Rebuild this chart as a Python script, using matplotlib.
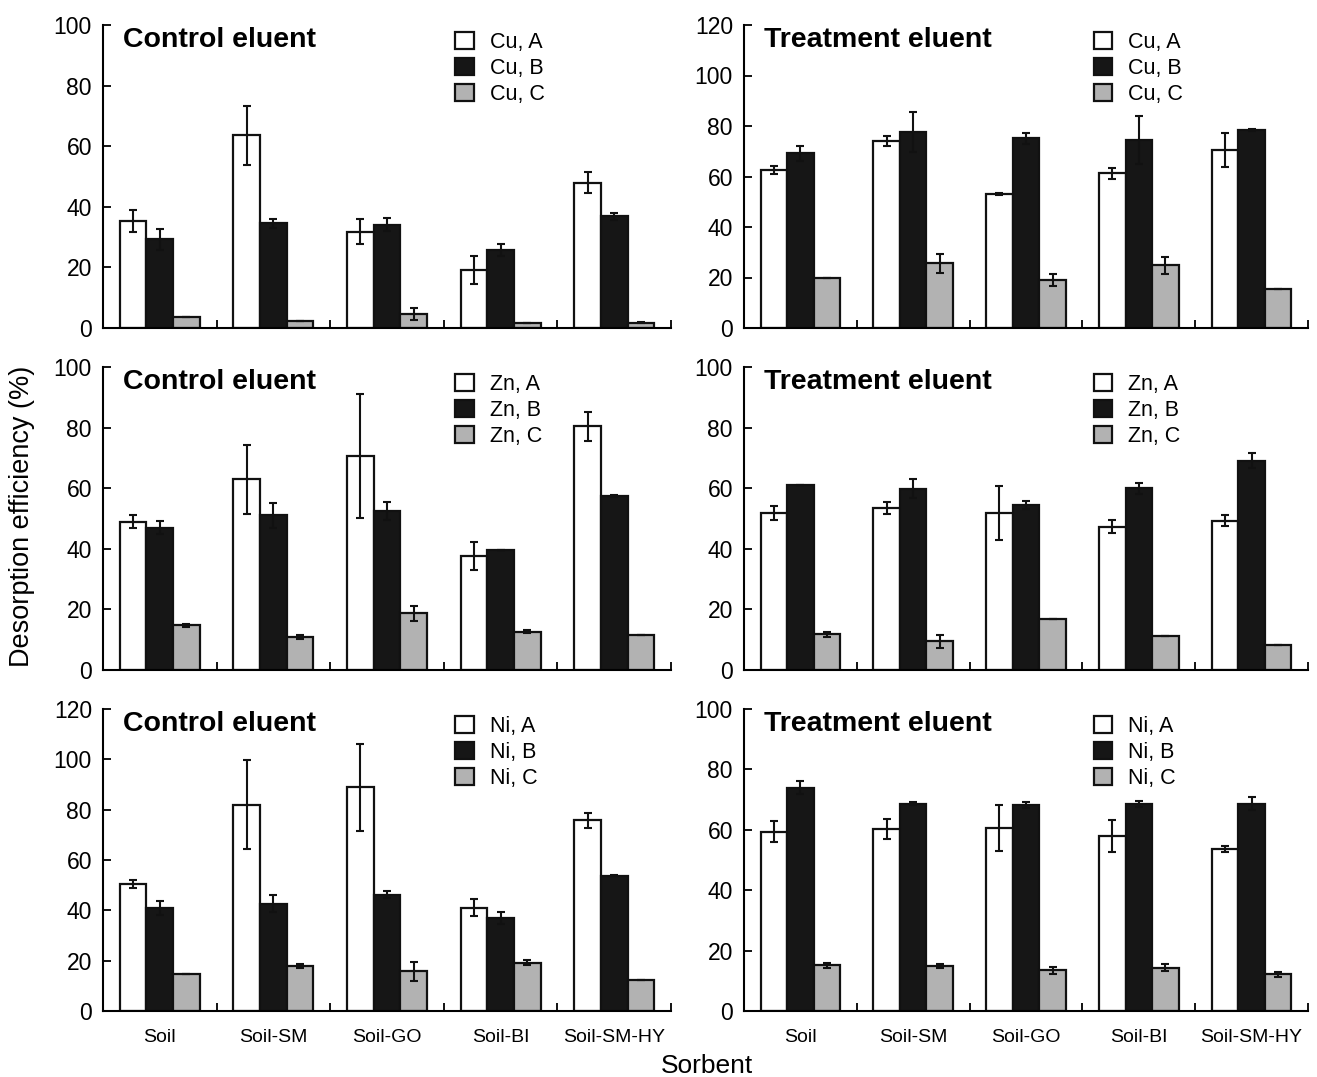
import numpy as np
import matplotlib
matplotlib.use('Agg')
import matplotlib.pyplot as plt
from matplotlib.patches import Patch
from matplotlib import font_manager

# font: narrow sans if available
names = set(f.name for f in font_manager.fontManager.ttflist)
if 'Liberation Sans Narrow' in names:
    plt.rcParams['font.family'] = ['Liberation Sans Narrow', 'DejaVu Sans']
else:
    plt.rcParams['font.family'] = ['Liberation Sans', 'DejaVu Sans']

sorbents = ['Soil', 'Soil-SM', 'Soil-GO', 'Soil-BI', 'Soil-SM-HY']

# Cu, control eluent
cu_ctrl_A = [35.4, 63.6, 31.8, 19.2, 48.0]
cu_ctrl_A_err = [3.6, 9.7, 4.2, 4.6, 3.5]
cu_ctrl_B = [29.3, 34.5, 34.1, 25.6, 36.8]
cu_ctrl_B_err = [3.5, 1.6, 2.2, 2.0, 1.3]
cu_ctrl_C = [3.5, 2.2, 4.5, 1.8, 1.8]
cu_ctrl_C_err = [0.0, 0.0, 2.0, 0.0, 0.3]

# Cu, treatment eluent
cu_trt_A = [62.6, 74.0, 53.1, 61.3, 70.6]
cu_trt_A_err = [1.7, 2.1, 0.3, 2.1, 6.7]
cu_trt_B = [69.2, 77.7, 75.2, 74.4, 78.5]
cu_trt_B_err = [3.0, 7.9, 2.2, 9.4, 0.5]
cu_trt_C = [20.0, 25.6, 19.1, 24.8, 15.3]
cu_trt_C_err = [0.0, 3.8, 2.4, 3.3, 0.0]

# Zn, control eluent
zn_ctrl_A = [49.0, 63.0, 70.7, 37.5, 80.4]
zn_ctrl_A_err = [2.1, 11.4, 20.4, 4.6, 4.7]
zn_ctrl_B = [47.0, 51.0, 52.6, 39.5, 57.5]
zn_ctrl_B_err = [2.1, 4.0, 3.0, 0.0, 0.3]
zn_ctrl_C = [14.7, 10.9, 18.7, 12.7, 11.5]
zn_ctrl_C_err = [0.5, 0.6, 2.4, 0.5, 0.0]

# Zn, treatment eluent
zn_trt_A = [51.8, 53.4, 51.8, 47.3, 49.3]
zn_trt_A_err = [2.3, 1.9, 9.0, 2.2, 1.8]
zn_trt_B = [61.2, 59.9, 54.5, 60.0, 69.1]
zn_trt_B_err = [0.0, 3.2, 1.2, 1.8, 2.4]
zn_trt_C = [11.8, 9.5, 16.8, 11.1, 8.2]
zn_trt_C_err = [0.9, 2.1, 0.0, 0.0, 0.0]

# Ni, control eluent
ni_ctrl_A = [50.4, 82.0, 88.9, 41.1, 75.7]
ni_ctrl_A_err = [1.7, 17.7, 17.3, 3.3, 3.0]
ni_ctrl_B = [40.9, 42.7, 46.2, 36.9, 53.7]
ni_ctrl_B_err = [2.8, 3.3, 1.4, 2.5, 0.2]
ni_ctrl_C = [14.8, 17.9, 15.7, 19.1, 12.4]
ni_ctrl_C_err = [0.0, 0.9, 3.8, 1.0, 0.0]

# Ni, treatment eluent
ni_trt_A = [59.4, 60.2, 60.6, 58.0, 53.7]
ni_trt_A_err = [3.4, 3.4, 7.5, 5.4, 1.1]
ni_trt_B = [74.0, 68.7, 68.2, 68.6, 68.7]
ni_trt_B_err = [2.2, 0.5, 0.9, 0.9, 2.3]
ni_trt_C = [15.1, 14.9, 13.5, 14.3, 12.1]
ni_trt_C_err = [0.9, 0.8, 1.2, 1.2, 0.9]

panels = [
    ('Cu', 'Control eluent', cu_ctrl_A, cu_ctrl_A_err, cu_ctrl_B, cu_ctrl_B_err, cu_ctrl_C, cu_ctrl_C_err, 100),
    ('Cu', 'Treatment eluent', cu_trt_A, cu_trt_A_err, cu_trt_B, cu_trt_B_err, cu_trt_C, cu_trt_C_err, 120),
    ('Zn', 'Control eluent', zn_ctrl_A, zn_ctrl_A_err, zn_ctrl_B, zn_ctrl_B_err, zn_ctrl_C, zn_ctrl_C_err, 100),
    ('Zn', 'Treatment eluent', zn_trt_A, zn_trt_A_err, zn_trt_B, zn_trt_B_err, zn_trt_C, zn_trt_C_err, 100),
    ('Ni', 'Control eluent', ni_ctrl_A, ni_ctrl_A_err, ni_ctrl_B, ni_ctrl_B_err, ni_ctrl_C, ni_ctrl_C_err, 120),
    ('Ni', 'Treatment eluent', ni_trt_A, ni_trt_A_err, ni_trt_B, ni_trt_B_err, ni_trt_C, ni_trt_C_err, 100),
]

colors = ['white', '#161616', '#b2b2b2']
W, H = 1317, 1077
fig = plt.figure(figsize=(W / 100, H / 100), dpi=100)

# axes boxes in pixels: left, top, right, bottom
lefts = [(103, 671), (744, 1308)]
rows = [(25, 328), (367, 670), (709, 1011)]

x = np.arange(len(sorbents))
bw = 0.235

for k, (metal, title, a, ae, b, be, c, ce, ymax) in enumerate(panels):
    r, col = divmod(k, 2)
    x0, x1 = lefts[col]
    y0, y1 = rows[r]
    ax = fig.add_axes([x0 / W, 1 - y1 / H, (x1 - x0) / W, (y1 - y0) / H])
    for j, (vals, errs) in enumerate([(a, ae), (b, be), (c, ce)]):
        pos = x + (j - 1) * bw
        ax.bar(pos, vals, bw, color=colors[j], edgecolor='#111111', linewidth=1.6,
               label='%s, %s' % (metal, 'ABC'[j]), zorder=2)
        ax.errorbar(pos, vals, yerr=errs, fmt='none', ecolor='#111111',
                    elinewidth=1.5, capsize=3, capthick=1.5, zorder=3)
    ax.set_xlim(-0.5, 4.5)
    ax.set_ylim(0, ymax)
    ax.set_yticks(np.arange(0, ymax + 1, 20))
    ax.set_xticks(x + 0.5)
    ax.set_xticklabels([])
    ax.set_xticks(x, minor=True)
    if r == 2:
        ax.set_xticklabels(sorbents, minor=True, fontsize=14)
    else:
        ax.set_xticklabels([], minor=True)
    ax.tick_params(axis='x', which='major', direction='in', length=6, width=1.3)
    ax.tick_params(axis='x', which='minor', length=0, pad=13)
    ax.tick_params(axis='y', direction='in', length=6, width=1.3, labelsize=16.5, pad=8)
    for s in ['top', 'right']:
        ax.spines[s].set_visible(False)
    for s in ['left', 'bottom']:
        ax.spines[s].set_linewidth(1.5)
    ax.text(0.035, 0.995, title, transform=ax.transAxes, fontsize=20.5, fontweight='bold',
            family=['Liberation Sans', 'DejaVu Sans'], va='top', ha='left')
    handles = [Patch(facecolor=colors[j], edgecolor='#111111', linewidth=1.6,
                     label='%s, %s' % (metal, 'ABC'[j])) for j in range(3)]
    ax.legend(handles=handles, loc='upper left', bbox_to_anchor=(0.605, 1.005), frameon=False,
              fontsize=15.5, handlelength=0.85, handleheight=0.85, handletextpad=0.75,
              labelspacing=0.22, borderaxespad=0)

fig.text(22 / W, 1 - 516 / H, 'Desorption efficiency (%)', rotation=90, fontsize=19.5,
         ha='center', va='center')
fig.text(707 / W, 1 - 1066 / H, 'Sorbent', fontsize=19, ha='center', va='center')

fig.savefig('out.png', dpi=100)
